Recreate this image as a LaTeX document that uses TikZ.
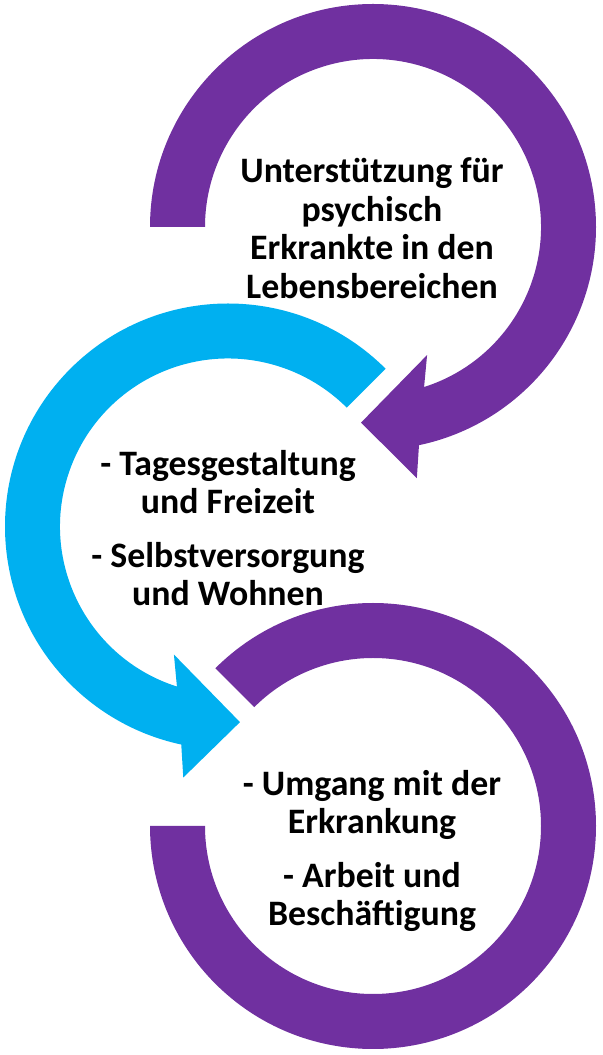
\documentclass[tikz,border=0pt]{standalone}
\usepackage{fontspec}
\setmainfont{Carlito}
\definecolor{ringpurple}{HTML}{7030A0}
\definecolor{ringblue}{HTML}{00B0F0}
\begin{document}
\begin{tikzpicture}[x = 0.5pt, y = 0.5pt, every node/.style={font = \bfseries\fontsize{17.9}{19.25}\selectfont, align = center, inner sep = 0pt}]
        \useasboundingbox (0, 0) rectangle (603, 1055);

        % top ring with head
        \fill[ringpurple, shift = {(373, 828)}] (180:223) arc[start angle = 180, end angle = -78.1, radius = 223]
            -- (-80.1:255) -- (-93.5:196) -- (-67.1:139) -- (-72.3:168)
            arc[start angle = -72.3, end angle = 180, radius = 168] -- cycle;

        % middle ring with head
        \fill[ringblue, shift = {(228, 528.5)}] (45:223) arc[start angle = 45, end angle = 257.9, radius = 223]
            -- (259.9:255) -- (273.5:196) -- (247.1:139) -- (252.3:168)
            arc[start angle = 252.3, end angle = 45, radius = 168] -- cycle;

        % bottom ring
        \fill[ringpurple, shift = {(373, 229)}] (135:223) arc[start angle = 135, end angle = -180, radius = 223]
            -- (180:168) arc[start angle = -180, end angle = 135, radius = 168] -- cycle;

        \node (lebensbereiche) at (372, 827) {Unterstützung für\\psychisch\\Erkrankte in den\\Lebensbereichen};
        \node (tagesgestaltung) at (228, 527) {- Tagesgestaltung\\und Freizeit\\[7.5pt]- Selbstversorgung\\und Wohnen};
        \node (umgang) at (372, 204) {- Umgang mit der\\Erkrankung\\[7.5pt]- Arbeit und\\Beschäftigung};
    \end{tikzpicture}
\end{document}
